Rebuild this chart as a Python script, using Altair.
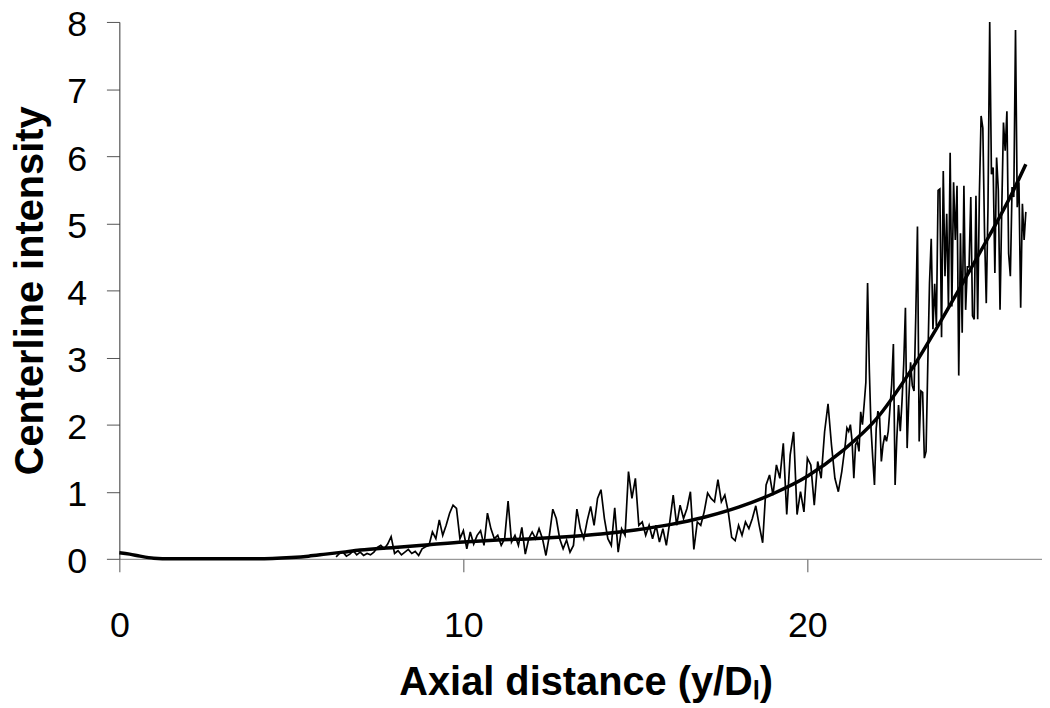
import altair as alt
import pandas as pd

# Noisy centerline intensity, sampled every 0.1 from x = 6.3
noise_lo_start = 6.3
noise_lo_step = 0.1
noise_lo = [
    0.03, 0.08, 0.10, 0.04, 0.07, 0.12, 0.06, 0.10, 0.05, 0.08, 0.06, 0.10,
    0.17, 0.20, 0.15, 0.22, 0.33,
    0.08, 0.12, 0.06, 0.10, 0.14, 0.08, 0.11, 0.05, 0.15, 0.18, 0.20,
    0.40, 0.30, 0.58, 0.35, 0.50, 0.68, 0.80, 0.75, 0.30, 0.42, 0.15, 0.40,
    0.22, 0.35, 0.42, 0.20, 0.68, 0.45, 0.30, 0.35, 0.20, 0.30,
    0.86, 0.25, 0.35, 0.20, 0.47, 0.07, 0.30, 0.40, 0.30, 0.45, 0.30, 0.05,
    0.35, 0.74, 0.60, 0.30, 0.15, 0.28, 0.10, 0.20, 0.74, 0.45, 0.30, 0.57,
    0.78, 0.50, 0.90, 1.03, 0.60, 0.30, 0.20, 0.76, 0.10, 0.45, 0.35, 1.30,
    0.90, 1.20, 0.50, 0.55, 0.35, 0.50, 0.30, 0.50, 0.25, 0.45, 0.20, 0.55,
    0.95, 0.50, 0.80, 0.60, 0.75, 1.00, 0.14, 0.55, 0.50, 0.70, 0.98, 0.90,
    0.85, 1.18, 0.85, 0.95, 0.70, 0.32, 0.27, 0.50, 0.35, 0.55, 0.45, 0.60,
    0.79, 0.50, 0.24, 1.10, 1.25, 0.95, 1.40, 1.20, 1.72, 0.66, 1.55, 1.89,
    0.66, 1.00, 0.70, 1.50, 1.40, 0.80, 1.45, 1.20, 1.89, 2.31, 1.70, 1.20,
    1.00, 1.30, 1.70,
]

# Noisy centerline intensity, sampled every 0.05 from x = 21.15
noise_hi_start = 21.15
noise_hi_step = 0.05
noise_hi = [
    1.95, 1.90, 2.00, 1.75, 1.20, 1.70, 1.75, 1.60, 2.19, 2.00, 2.30, 2.63,
    4.11, 2.83, 1.94, 1.50, 1.10, 1.94, 2.20, 2.10, 1.45, 1.70, 1.84, 1.75,
    1.90, 2.24, 2.60, 3.20, 1.10, 1.80, 2.29, 1.90, 2.34, 2.90, 3.74, 1.65,
    2.40, 2.93, 2.58, 2.50, 3.60, 4.95, 1.75, 2.50, 2.48, 1.50, 1.60, 2.90,
    4.11, 4.77, 3.42, 4.10, 3.47, 5.49, 5.51, 3.30, 5.78, 4.21, 5.14, 3.76,
    6.05, 3.76, 5.61, 4.75, 5.56, 2.73, 4.85, 3.37, 5.56, 3.71, 4.35, 4.35,
    5.39, 3.62, 3.57, 5.41, 3.57, 5.44, 6.60, 6.42, 4.85, 3.81, 5.24, 8.00,
    5.73, 5.83, 4.26, 5.98, 5.49, 3.71, 5.20, 6.50, 6.08, 6.67, 4.55, 4.21,
    5.54, 5.39, 7.88, 5.24, 5.61, 3.74, 5.29, 4.75, 5.17,
]

# Fitted trend curve
fit_x = [0, 0.3, 0.6, 1.0, 1.5, 2, 3, 4, 5, 5.5, 6, 6.5, 7, 8, 9, 10, 11,
         12, 13, 14, 15, 16, 17, 18, 19, 20, 21, 22, 23, 24, 25, 26, 26.35]
fit_y = [0.09, 0.07, 0.04, 0.01, 0.0, 0.0, 0.0, 0.0, 0.02, 0.04, 0.07, 0.10,
         0.13, 0.17, 0.21, 0.25, 0.28, 0.30, 0.33, 0.37, 0.43, 0.51, 0.62,
         0.77, 0.97, 1.23, 1.60, 2.08, 2.80, 3.65, 4.55, 5.50, 5.88]

x_ticks = [0, 10, 20]
y_ticks = [0, 1, 2, 3, 4, 5, 6, 7, 8]

noise_x = [round(noise_lo_start + i * noise_lo_step, 3) for i in range(len(noise_lo))]
noise_x += [round(noise_hi_start + i * noise_hi_step, 3) for i in range(len(noise_hi))]
noise_df = pd.DataFrame({"x": noise_x, "y": noise_lo + noise_hi})
fit_df = pd.DataFrame({"x": fit_x, "y": fit_y})

FONT = "Liberation Sans"

x_enc = alt.X(
    "x:Q",
    scale=alt.Scale(domain=[0, 26.82], nice=False, zero=False),
    axis=alt.Axis(
        values=x_ticks,
        format="d",
        title="Axial distance (y/Dₗ)",
        grid=False,
        domainColor="#808080",
        tickColor="#555555",
        tickSize=13,
        labelFlush=False,
        labelFont=FONT,
        labelFontSize=36,
        labelColor="black",
        labelPadding=37,
        titleFont=FONT,
        titleFontSize=40,
        titleFontWeight="bold",
        titleColor="black",
        titleX=469,
        titleY=136,
        titleBaseline="alphabetic",
    ),
)
y_enc = alt.Y(
    "y:Q",
    scale=alt.Scale(domain=[0, 8], nice=False),
    axis=alt.Axis(
        values=y_ticks,
        format="d",
        title="Centerline intensity",
        grid=False,
        domainColor="#333333",
        tickColor="#555555",
        tickSize=13,
        labelFlush=False,
        labelFont=FONT,
        labelFontSize=36,
        labelColor="black",
        labelPadding=20,
        labelOffset=3,
        titleFont=FONT,
        titleFontSize=40,
        titleFontWeight="bold",
        titleColor="black",
        titleAngle=270,
        titleX=-77,
        titleY=270,
        titleBaseline="alphabetic",
    ),
)

noise = alt.Chart(noise_df).mark_line(color="black", strokeWidth=1.7).encode(
    x=x_enc, y=y_enc
)
fit = alt.Chart(fit_df).mark_line(
    color="black", strokeWidth=3.5, interpolate="monotone"
).encode(x="x:Q", y="y:Q")

chart = (
    alt.layer(noise, fit)
    .properties(
        width=928,
        height=540,
        autosize=alt.AutoSizeParams(type="none"),
        padding={"left": 112, "top": 12, "right": 0, "bottom": 146},
        background="white",
    )
    .configure_view(stroke=None)
)

chart.save("out.html", embed_options={"renderer": "svg", "actions": False})
